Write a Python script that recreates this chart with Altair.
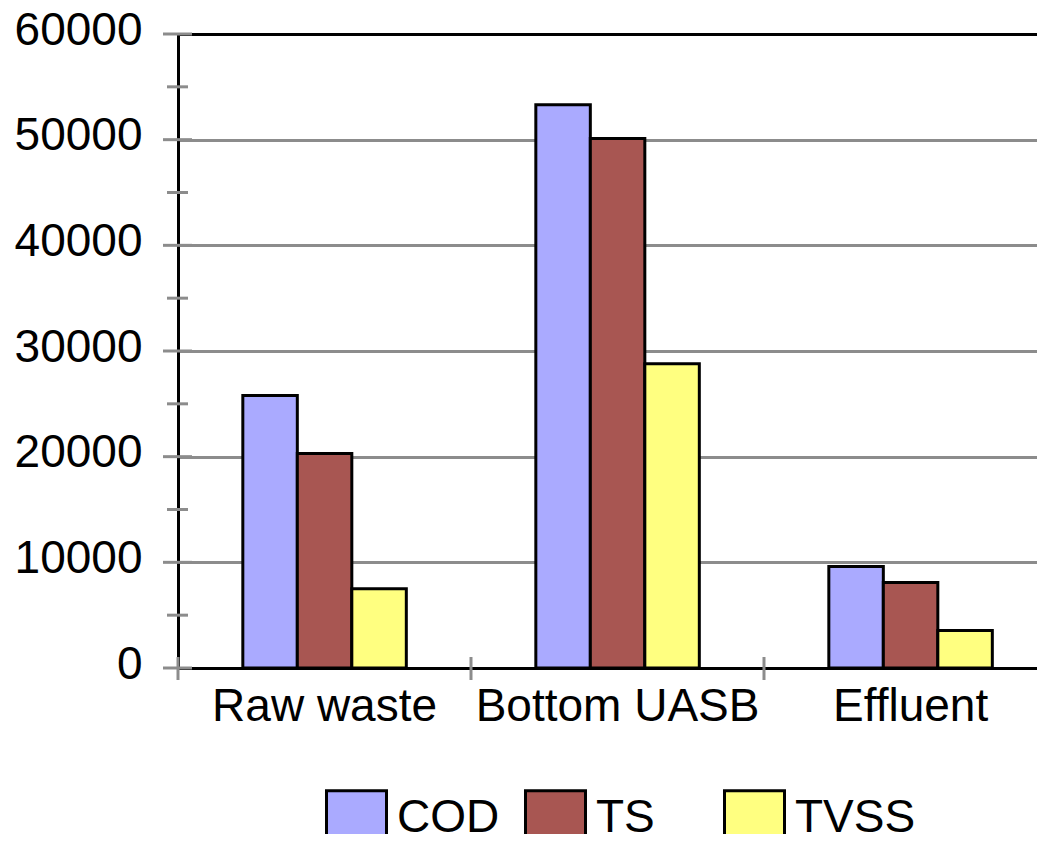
import altair as alt
import pandas as pd

categories = ["Raw waste", "Bottom UASB", "Effluent"]
series = ["COD", "TS", "TVSS"]
cod = [25800, 53300, 9600]
ts = [20300, 50100, 8100]
tvss = [7500, 28800, 3550]
colors = ["#AAAAFF", "#A85652", "#FFFF80"]
major_ticks = [0, 10000, 20000, 30000, 40000, 50000, 60000]
minor_ticks = [5000, 15000, 25000, 35000, 45000, 55000]
boundaries = [0, 1, 2]

rows = []
for name, vals in zip(series, [cod, ts, tvss]):
    for c, v in zip(categories, vals):
        rows.append({"category": c, "series": name, "value": v})
df = pd.DataFrame(rows)

FONT = "Liberation Sans"
FS = 46
W, H = 859, 634
STEP = 293.0
GRID = "#8c8c8c"

# band layout: the plot continues past the right edge of the picture
xscale = alt.Scale(domain=categories, paddingInner=0.442, paddingOuter=0.18685, align=0.592)
yscale = alt.Scale(domain=[0, 60000], nice=False, padding=0)

yaxis = alt.Axis(title=None, values=major_ticks, format="d", grid=True,
                 gridColor={"condition": {"test": "datum.value === 0 || datum.value === 60000",
                                          "value": "black"}, "value": GRID},
                 gridWidth=3, domainColor="black", domainWidth=3,
                 ticks=False, tickSize=0, labelFontSize=FS, labelPadding=36, labelOffset=-4,
                 labelFont=FONT, labelColor="black")

bars = alt.Chart(df).mark_bar(stroke="black", strokeWidth=3, opacity=1).encode(
    x=alt.X("category:N", scale=xscale, sort=categories,
            axis=alt.Axis(title=None, ticks=False, tickSize=0, domain=False, grid=False,
                          labelAngle=0, labelFontSize=FS, labelPadding=16, labelLimit=500,
                          labelFont=FONT, labelColor="black")),
    xOffset=alt.XOffset("series:N", sort=series, scale=alt.Scale(paddingInner=0, paddingOuter=0)),
    y=alt.Y("value:Q", scale=yscale, axis=yaxis),
    color=alt.Color("series:N", scale=alt.Scale(domain=series, range=colors),
                    legend=alt.Legend(title=None, orient="none", legendX=147, legendY=752,
                                      direction="horizontal",
                                      symbolType="M-1,-0.9H1V1.1H-1Z", symbolSize=3600,
                                      symbolStrokeColor="black", symbolStrokeWidth=3,
                                      symbolOpacity=1,
                                      labelFontSize=FS, labelFont=FONT, labelColor="black",
                                      labelOffset=9, columnPadding=1, gridAlign="all",
                                      padding=0)),
)

ymaj = alt.Chart(pd.DataFrame({"value": major_ticks})).mark_rule(color=GRID, strokeWidth=3).encode(
    y=alt.Y("value:Q", scale=yscale, axis=yaxis),
    x=alt.value(-15), x2=alt.value(14),
)
ymin = alt.Chart(pd.DataFrame({"value": minor_ticks})).mark_rule(color=GRID, strokeWidth=3).encode(
    y=alt.Y("value:Q", scale=yscale, axis=yaxis),
    x=alt.value(-11), x2=alt.value(10),
)
xt = alt.Chart(pd.DataFrame({"b": boundaries})).mark_rule(color=GRID, strokeWidth=3).encode(
    x=alt.X("b:Q", scale=alt.Scale(domain=[0, W / STEP], nice=False, zero=True, padding=0), axis=None),
    y=alt.value(H - 11), y2=alt.value(H + 12),
)

chart = alt.layer(bars, ymaj, ymin, xt).resolve_scale(x="independent").properties(
    width=W, height=H,
    padding={"left": 170, "top": 26, "right": 0, "bottom": 166},
    autosize=alt.AutoSizeParams(type="none"),
    background="white",
).configure_view(stroke=None).configure(font=FONT)

chart.save("out.html", embed_options={"renderer": "svg", "actions": False})
